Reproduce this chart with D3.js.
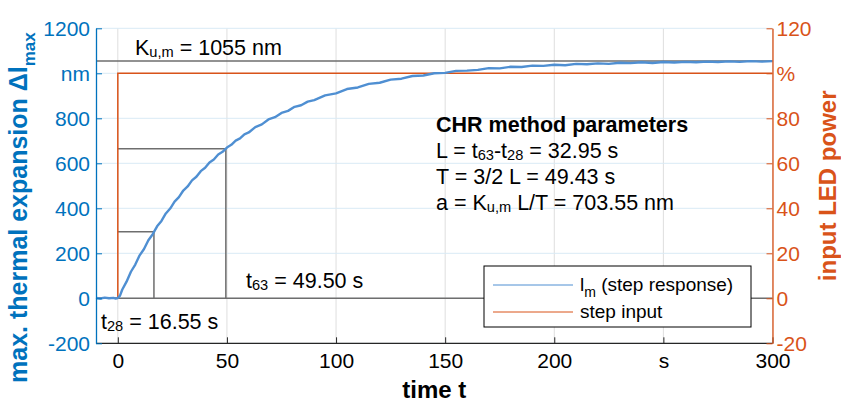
<!DOCTYPE html>
<html><head><meta charset="utf-8">
<script src="https://cdn.jsdelivr.net/npm/d3@7"></script>
<style>
html,body{margin:0;padding:0;background:#fff;}
svg text{font-family:"Liberation Sans",Arial,Helvetica,sans-serif;}
</style></head>
<body><svg id="c" width="841" height="404"></svg>
<script>
// ---- data ----
const respTime = [-10,-8,-6,-4,-2,-1,0,1,2,4,6,8,10,12,14,16,18,20,22,24,26,28,30,32,34,36,38,40,42,44,46,48,50,52,54,56,58,60,63,66,69,72,75,78,81,84,87,90,95,100,105,110,115,120,125,130,135,140,145,150,155,160,165,170,175,180,185,190,195,200,205,210,215,220,225,230,235,240,245,250,255,260,265,270,275,280,285,290,295,300];
const respValue = [2,-1,3,0,2,-1,1,12,38,74,118,150,191,219,258,285,320,344,377,399,430,450,479,497,524,540,565,580,604,617,639,651,670,682,701,711,729,737,761,773,795,805,824,833,851,858,874,881,902,911,930,937,953,958,972,976,988,990,1000,1002,1011,1012,1015,1023,1022,1029,1028,1034,1033,1038,1036,1042,1040,1044,1042,1047,1045,1049,1046,1050,1048,1051,1049,1052,1050,1053,1051,1054,1052,1054];
const stepTime = [-10,0,0,300];
const stepPower = [0,0,100,100];
const Ku = 1055, t28 = 16.55, t63 = 49.50;
const y28 = 0.28*Ku, y63 = 0.63*Ku;
const xTicks = [0,50,100,150,200,250,300];
const xTickLabels = ["0","50","100","150","200","s","300"];
const yLTicks = [-200,0,200,400,600,800,1000,1200];
const yLTickLabels = ["-200","0","200","400","600","800","nm","1200"];
const yRTicks = [-20,0,20,40,60,80,100,120];
const yRTickLabels = ["-20","0","20","40","60","80","%","120"];
const chrLines = [["L = t","63","-t","28"," = 32.95 s"],["T = 3/2 L = 49.43 s"],["a = K","u,m"," L/T = 703.55 nm"]];

// ---- layout ----
const BLUE="#0072BD", ORANGE="#D95319", CURVE="#4F8FD2", GRAYL="#6e6e6e";
const L=96, R=772.5, T=28.3, B=343.3;
const svg=d3.select("#c");
const x=d3.scaleLinear().domain([-10,300]).range([L,R]);
const yL=d3.scaleLinear().domain([-200,1200]).range([B,T]);
const yR=d3.scaleLinear().domain([-20,120]).range([B,T]);

// grid
const g=svg.append("g");
g.selectAll(".vg").data(xTicks).join("line").attr("x1",d=>x(d)).attr("x2",d=>x(d)).attr("y1",T).attr("y2",B).attr("stroke","#dedede").attr("stroke-width",1);
g.selectAll(".hg").data(yLTicks).join("line").attr("x1",L).attr("x2",R).attr("y1",d=>yL(d)).attr("y2",d=>yL(d)).attr("stroke","#d9eaf5").attr("stroke-width",1);

// annotation lines (gray)
const ann=svg.append("g").attr("stroke",GRAYL).attr("stroke-width",1.5).attr("fill","none");
const line=d3.line().x(d=>x(d[0])).y(d=>yL(d[1]));
ann.append("path").attr("d",line([[-10,Ku],[300,Ku]]));
ann.append("path").attr("d",line([[-10,0],[300,0]]));
ann.append("path").attr("d",line([[0,y63],[t63,y63],[t63,0]]));
ann.append("path").attr("d",line([[0,y28],[t28,y28],[t28,0]]));

// step input
svg.append("path").attr("d",d3.line().x(d=>x(d[0])).y(d=>yR(d[1]))(stepTime.map((t,i)=>[t,stepPower[i]])))
  .attr("fill","none").attr("stroke",ORANGE).attr("stroke-width",1.5);
// response
svg.append("path").attr("d",line(respTime.map((t,i)=>[t,respValue[i]])))
  .attr("fill","none").attr("stroke",CURVE).attr("stroke-width",2.4).attr("stroke-linejoin","round");

// axes
const fs=21;
const ax=svg.append("g").attr("transform",`translate(0,${B})`)
  .call(d3.axisBottom(x).tickValues(xTicks).tickFormat((d,i)=>xTickLabels[i]).tickSizeInner(-6).tickSizeOuter(0).tickPadding(10));
ax.select(".domain").attr("stroke","#262626").attr("stroke-width",1.2);
ax.selectAll(".tick line").attr("stroke","#262626");
ax.selectAll("text").attr("font-size",fs).attr("fill","#000").attr("font-family","Liberation Sans, Arial");
ax.select(".domain").attr("d",`M${L},0H${R}`);

const al=svg.append("g").attr("transform",`translate(${L},0)`)
  .call(d3.axisLeft(yL).tickValues(yLTicks).tickFormat((d,i)=>yLTickLabels[i]).tickSizeInner(-6).tickSizeOuter(0).tickPadding(6));
al.select(".domain").attr("stroke",BLUE).attr("stroke-width",1.3);
al.selectAll(".tick line").attr("stroke",BLUE);
al.selectAll("text").attr("font-size",fs).attr("fill",BLUE).attr("font-family","Liberation Sans, Arial");

const ar=svg.append("g").attr("transform",`translate(${R},0)`)
  .call(d3.axisRight(yR).tickValues(yRTicks).tickFormat((d,i)=>yRTickLabels[i]).tickSizeInner(-6).tickSizeOuter(0).tickPadding(4));
ar.select(".domain").attr("stroke",ORANGE).attr("stroke-width",1.3);
ar.selectAll(".tick line").attr("stroke",ORANGE);
ar.selectAll("text").attr("font-size",fs).attr("fill",ORANGE).attr("font-family","Liberation Sans, Arial");

// axis labels
svg.append("text").attr("x",(L+R)/2).attr("y",398).attr("text-anchor","middle").attr("font-size",24).attr("font-weight","bold").text("time t");
const yl=svg.append("text").attr("transform","translate(27,383) rotate(-90)").attr("font-size",25).attr("font-weight","bold").attr("fill",BLUE);
yl.append("tspan").text("max. thermal expansion Δl");
yl.append("tspan").attr("font-size",17).attr("dy",8).text("max");
svg.append("text").attr("transform",`translate(836,${(T+B)/2}) rotate(-90)`).attr("text-anchor","middle").attr("font-size",24).attr("font-weight","bold").attr("fill",ORANGE).text("input LED power");

// annotation texts
function subText(xp,yp,parts,size){
  const t=svg.append("text").attr("x",xp).attr("y",yp).attr("font-size",size).attr("fill","#000");
  parts.forEach((p,i)=>{
    const sp=t.append("tspan").text(p);
    if(i%2===1){sp.attr("font-size",size*0.68).attr("dy",2);}
    else if(i>0){sp.attr("dy",-2);}
  });
  return t;
}
const afs=21.5;
subText(135,55,["K","u,m"," = 1055 nm"],afs);
subText(246,288,["t","63"," = 49.50 s"],afs);
subText(101,329,["t","28"," = 16.55 s"],afs);
svg.append("text").attr("x",436).attr("y",132).attr("font-size",afs).attr("font-weight","bold").text("CHR method parameters");
const chrY=[158,184,210];
chrLines.forEach((ln,i)=>subText(436,chrY[i],ln,afs));

// legend
const lg=svg.append("g");
lg.append("rect").attr("x",484).attr("y",266).attr("width",267).attr("height",61).attr("fill","#fff").attr("stroke","#000").attr("stroke-width",1);
lg.append("line").attr("x1",493).attr("x2",573).attr("y1",285).attr("y2",285).attr("stroke",CURVE).attr("stroke-width",1);
lg.append("line").attr("x1",493).attr("x2",573).attr("y1",312).attr("y2",312).attr("stroke",ORANGE).attr("stroke-width",1);
const l1=lg.append("text").attr("x",580).attr("y",291).attr("font-size",19);
l1.append("tspan").text("l");
l1.append("tspan").attr("font-size",14).attr("dy",6).text("m");
l1.append("tspan").attr("dy",-6).text(" (step response)");
lg.append("text").attr("x",580).attr("y",318).attr("font-size",19).text("step input");
</script></body></html>
